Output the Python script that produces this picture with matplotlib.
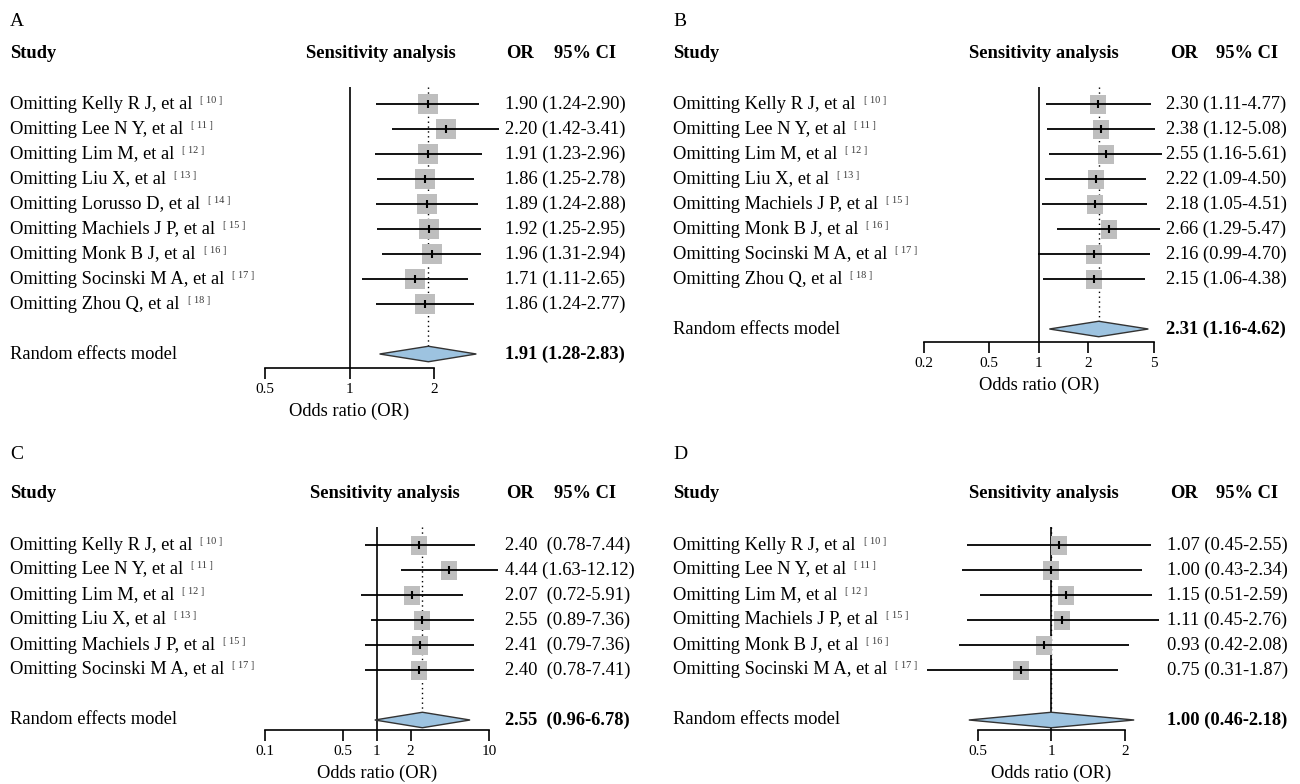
import matplotlib
matplotlib.use('Agg')
import matplotlib.pyplot as plt
import matplotlib.transforms as mtransforms
from matplotlib.patches import Polygon
from matplotlib.ticker import NullLocator

plt.rcParams['font.family'] = ['Liberation Serif', 'DejaVu Serif']
plt.rcParams['font.size'] = 13.3

# ---- data ----
# panel A
a_names = ['Omitting Kelly R J, et al', 'Omitting Lee N Y, et al', 'Omitting Lim M, et al',
           'Omitting Liu X, et al', 'Omitting Lorusso D, et al', 'Omitting Machiels J P, et al',
           'Omitting Monk B J, et al', 'Omitting Socinski M A, et al', 'Omitting Zhou Q, et al']
a_refs = [10, 11, 12, 13, 14, 15, 16, 17, 18]
a_or = [1.90, 2.20, 1.91, 1.86, 1.89, 1.92, 1.96, 1.71, 1.86]
a_lo = [1.24, 1.42, 1.23, 1.25, 1.24, 1.25, 1.31, 1.11, 1.24]
a_hi = [2.90, 3.41, 2.96, 2.78, 2.88, 2.95, 2.94, 2.65, 2.77]
a_summary = (1.91, 1.28, 2.83)
a_ticks = [0.5, 1, 2]

# panel B
b_names = ['Omitting Kelly R J, et al', 'Omitting Lee N Y, et al', 'Omitting Lim M, et al',
           'Omitting Liu X, et al', 'Omitting Machiels J P, et al', 'Omitting Monk B J, et al',
           'Omitting Socinski M A, et al', 'Omitting Zhou Q, et al']
b_refs = [10, 11, 12, 13, 15, 16, 17, 18]
b_or = [2.30, 2.38, 2.55, 2.22, 2.18, 2.66, 2.16, 2.15]
b_lo = [1.11, 1.12, 1.16, 1.09, 1.05, 1.29, 0.99, 1.06]
b_hi = [4.77, 5.08, 5.61, 4.50, 4.51, 5.47, 4.70, 4.38]
b_summary = (2.31, 1.16, 4.62)
b_ticks = [0.2, 0.5, 1, 2, 5]

# panel C
c_names = ['Omitting Kelly R J, et al', 'Omitting Lee N Y, et al', 'Omitting Lim M, et al',
           'Omitting Liu X, et al', 'Omitting Machiels J P, et al', 'Omitting Socinski M A, et al']
c_refs = [10, 11, 12, 13, 15, 17]
c_or = [2.40, 4.44, 2.07, 2.55, 2.41, 2.40]
c_lo = [0.78, 1.63, 0.72, 0.89, 0.79, 0.78]
c_hi = [7.44, 12.12, 5.91, 7.36, 7.36, 7.41]
c_summary = (2.55, 0.96, 6.78)
c_ticks = [0.1, 0.5, 1, 2, 10]

# panel D
d_names = ['Omitting Kelly R J, et al', 'Omitting Lee N Y, et al', 'Omitting Lim M, et al',
           'Omitting Machiels J P, et al', 'Omitting Monk B J, et al', 'Omitting Socinski M A, et al']
d_refs = [10, 11, 12, 15, 16, 17]
d_or = [1.07, 1.00, 1.15, 1.11, 0.93, 0.75]
d_lo = [0.45, 0.43, 0.51, 0.45, 0.42, 0.31]
d_hi = [2.55, 2.34, 2.59, 2.76, 2.08, 1.87]
d_summary = (1.00, 0.46, 2.18)
d_ticks = [0.5, 1, 2]

# ---- layout (pixels of the 1300x784 canvas) ----
W, H = 1300, 784
ROW = 25.0
fig = plt.figure(figsize=(13, 7.84), dpi=100)
px = mtransforms.Affine2D().scale(1 / W, -1 / H).translate(0, 1) + fig.transFigure


def draw_panel(letter, names, refs, est, lo, hi, summ, ticks, lay):
    x0 = lay['x0']
    left, right, top, bottom = lay['axes']
    ax = fig.add_axes([left / W, 1 - bottom / H, (right - left) / W, (bottom - top) / H])
    ax.set_xscale('log')
    ax.set_xlim(ticks[0], ticks[-1])
    ax.set_ylim((bottom - lay['row0']) / ROW, (top - lay['row0']) / ROW)
    ax.patch.set_visible(False)
    for s in ['left', 'right', 'top']:
        ax.spines[s].set_visible(False)
    ax.spines['bottom'].set_linewidth(1.2)
    ax.set_yticks([])
    ax.set_xticks(ticks)
    ax.set_xticklabels([f'{t:g}' for t in ticks])
    ax.xaxis.set_minor_locator(NullLocator())
    ax.tick_params(axis='x', length=8, width=1.2, pad=2.5, labelsize=11)
    ax.set_xlabel('Odds ratio (OR)', fontsize=13.3, labelpad=5)

    n = len(names)
    rows = list(range(n))
    s_row = n + 1
    s_est, s_lo, s_hi = summ
    half = 0.31

    # reference line at 1 and dotted line at pooled estimate
    ax.axvline(1, color='black', lw=1.2)
    ax.plot([s_est, s_est], [ax.get_ylim()[1], s_row - half], ls=(0, (1, 2.5)),
            color='black', lw=1)

    # study boxes, CIs and point ticks
    bw, bh = lay['box']
    k = bw / bh
    verts = [(-k, -1), (k, -1), (k, 1), (-k, 1), (-k, -1)]
    ax.plot(est, rows, ls='none', marker=verts, markersize=bh * 0.72, mew=0,
            color='#bebebe', clip_on=False, zorder=2)
    ax.hlines(rows, lo, hi, color='black', lw=1.3, clip_on=False, zorder=3)
    ax.plot(est, rows, ls='none', marker='|', markersize=6, mew=1.5,
            color='black', clip_on=False, zorder=4)

    # pooled diamond
    ax.add_patch(Polygon([(s_lo, s_row), (s_est, s_row - half), (s_hi, s_row), (s_est, s_row + half)],
                         closed=True, fc='#9dc3e0', ec='#333333', lw=1, zorder=3, clip_on=False))

    # text columns
    tr = mtransforms.blended_transform_factory(px, ax.transData)
    fig.text(x0, lay['letter_y'], letter, transform=px, ha='left', va='center', fontsize=14)
    hy = lay['header_y']
    fig.text(x0, hy, 'Study', transform=px, ha='left', va='center', fontweight='bold')
    fig.text(lay['sens_x'], hy, 'Sensitivity analysis', transform=px, ha='center',
             va='center', fontweight='bold')
    fig.text(lay['or_x'], hy, 'OR', transform=px, ha='left', va='center', fontweight='bold')
    fig.text(lay['ci_x'], hy, '95% CI', transform=px, ha='left', va='center', fontweight='bold')

    for r, name, ref in zip(rows, names, refs):
        t = ax.text(x0, r, name, transform=tr, ha='left', va='center')
        ax.annotate(f'[ {ref} ]', xy=(1, 1), xycoords=t, xytext=(8, 0),
                    textcoords='offset pixels', ha='left', va='top', fontsize=7.5, color='#3a3a3a')

    # "OR (CI)" column, padded like a fixed-width R table
    rows_all = rows + [s_row]
    ci_txt = [f'({l:.2f}-{h:.2f})' for l, h in zip(list(lo) + [s_lo], list(hi) + [s_hi])]
    width = max(len(c) for c in ci_txt)
    for r, e, c in zip(rows_all, list(est) + [s_est], ci_txt):
        w = 'bold' if r == s_row else 'normal'
        gap = ' ' * (width - len(c) + 1)
        ax.text(lay['val_x'], r, f'{e:.2f}{gap}{c}', transform=tr, va='center', fontweight=w)
    ax.text(x0, s_row, 'Random effects model', transform=tr, ha='left', va='center')
    return ax


lay_a = dict(x0=10, letter_y=21, header_y=53, sens_x=381, or_x=506, ci_x=554, val_x=505,
             axes=(265, 434, 87, 368), row0=104, box=(20, 20))
lay_b = dict(x0=673, letter_y=21, header_y=53, sens_x=1044, or_x=1170, ci_x=1216, val_x=1166.5,
             axes=(923.5, 1154, 87, 342), row0=104, box=(16, 19))
lay_c = dict(x0=10, letter_y=455, header_y=494, sens_x=385, or_x=506, ci_x=554, val_x=505,
             axes=(264.5, 489, 527, 730), row0=545, box=(16, 19))
lay_d = dict(x0=673, letter_y=455, header_y=494, sens_x=1044, or_x=1170, ci_x=1216, val_x=1167,
             axes=(977.7, 1125, 527, 730), row0=545, box=(16, 19))

draw_panel('A', a_names, a_refs, a_or, a_lo, a_hi, a_summary, a_ticks, lay_a)
draw_panel('B', b_names, b_refs, b_or, b_lo, b_hi, b_summary, b_ticks, lay_b)
draw_panel('C', c_names, c_refs, c_or, c_lo, c_hi, c_summary, c_ticks, lay_c)
draw_panel('D', d_names, d_refs, d_or, d_lo, d_hi, d_summary, d_ticks, lay_d)

fig.savefig('out.png', dpi=100)
